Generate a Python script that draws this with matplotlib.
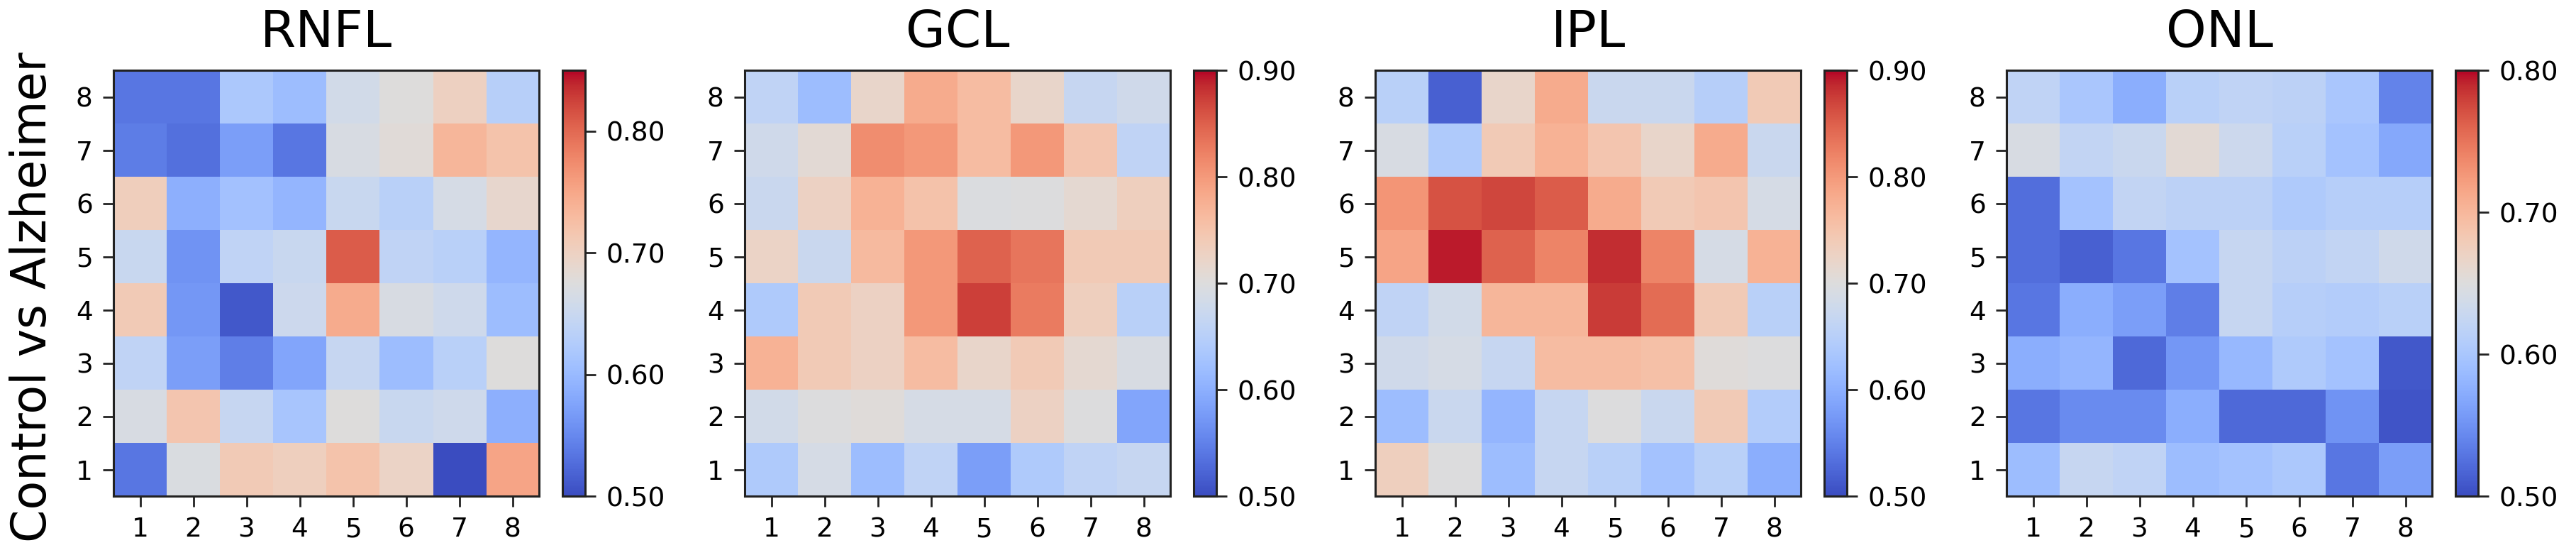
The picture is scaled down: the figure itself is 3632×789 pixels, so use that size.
import numpy as np
import matplotlib
matplotlib.use('Agg')
import matplotlib.pyplot as plt

# grid positions 1..8 on both axes
positions = [1, 2, 3, 4, 5, 6, 7, 8]
layers = ['RNFL', 'GCL', 'IPL', 'ONL']

# rows listed from top (y=8) down to bottom (y=1)
rnfl = [
    [0.535, 0.535, 0.620, 0.605, 0.660, 0.675, 0.700, 0.630],
    [0.540, 0.530, 0.570, 0.535, 0.668, 0.680, 0.735, 0.720],
    [0.705, 0.588, 0.610, 0.595, 0.650, 0.633, 0.665, 0.690],
    [0.650, 0.560, 0.640, 0.650, 0.808, 0.640, 0.633, 0.595],
    [0.710, 0.563, 0.510, 0.654, 0.745, 0.668, 0.657, 0.605],
    [0.640, 0.570, 0.542, 0.577, 0.647, 0.605, 0.633, 0.675],
    [0.668, 0.717, 0.647, 0.615, 0.675, 0.650, 0.657, 0.588],
    [0.535, 0.670, 0.710, 0.703, 0.720, 0.696, 0.500, 0.752],
]
gcl = [
    [0.660, 0.620, 0.720, 0.780, 0.760, 0.720, 0.668, 0.680],
    [0.680, 0.708, 0.812, 0.800, 0.760, 0.800, 0.748, 0.660],
    [0.672, 0.728, 0.772, 0.752, 0.696, 0.700, 0.712, 0.732],
    [0.724, 0.672, 0.764, 0.800, 0.848, 0.832, 0.740, 0.740],
    [0.640, 0.740, 0.728, 0.800, 0.872, 0.828, 0.732, 0.652],
    [0.772, 0.740, 0.728, 0.760, 0.720, 0.740, 0.712, 0.692],
    [0.684, 0.700, 0.704, 0.688, 0.688, 0.728, 0.700, 0.588],
    [0.640, 0.688, 0.620, 0.660, 0.580, 0.640, 0.660, 0.668],
]
ipl = [
    [0.652, 0.520, 0.720, 0.780, 0.672, 0.672, 0.648, 0.740],
    [0.692, 0.640, 0.740, 0.772, 0.748, 0.720, 0.780, 0.672],
    [0.804, 0.860, 0.868, 0.852, 0.780, 0.740, 0.748, 0.688],
    [0.788, 0.892, 0.848, 0.820, 0.884, 0.820, 0.688, 0.772],
    [0.660, 0.684, 0.768, 0.768, 0.876, 0.840, 0.740, 0.652],
    [0.680, 0.688, 0.668, 0.760, 0.760, 0.756, 0.704, 0.700],
    [0.620, 0.672, 0.608, 0.668, 0.700, 0.672, 0.740, 0.644],
    [0.732, 0.700, 0.620, 0.668, 0.652, 0.628, 0.652, 0.600],
]
onl = [
    [0.620, 0.600, 0.575, 0.614, 0.620, 0.617, 0.600, 0.539],
    [0.644, 0.623, 0.629, 0.656, 0.632, 0.614, 0.596, 0.569],
    [0.524, 0.596, 0.623, 0.617, 0.617, 0.605, 0.611, 0.611],
    [0.524, 0.515, 0.530, 0.596, 0.626, 0.617, 0.623, 0.635],
    [0.530, 0.575, 0.560, 0.536, 0.626, 0.611, 0.608, 0.614],
    [0.575, 0.581, 0.521, 0.554, 0.584, 0.605, 0.596, 0.509],
    [0.530, 0.545, 0.545, 0.575, 0.521, 0.521, 0.551, 0.506],
    [0.590, 0.626, 0.620, 0.590, 0.596, 0.602, 0.530, 0.560],
]
maps = [rnfl, gcl, ipl, onl]

# colour limits and colourbar ticks per layer
vmins = [0.50, 0.50, 0.50, 0.50]
vmaxs = [0.85, 0.90, 0.90, 0.80]
cbar_ticks = [[0.5, 0.6, 0.7, 0.8],
              [0.5, 0.6, 0.7, 0.8, 0.9],
              [0.5, 0.6, 0.7, 0.8, 0.9],
              [0.5, 0.6, 0.7, 0.8]]

W, H = 3632, 789
fig = plt.figure(figsize=(W / 100, H / 100), dpi=100)

lefts = [160, 1050, 1939, 2829]  # pixel left edge of each heatmap
box = 600
bottom = 90

for i in range(4):
    ax = fig.add_axes([lefts[i] / W, bottom / H, box / W, box / H])
    data = np.flipud(np.array(maps[i]))
    im = ax.imshow(data, cmap='coolwarm', vmin=vmins[i], vmax=vmaxs[i],
                   origin='lower', interpolation='nearest', aspect='auto',
                   extent=(0.5, 8.5, 0.5, 8.5))
    ax.set_xticks(positions)
    ax.set_yticks(positions)
    ax.set_xticklabels([str(p) for p in positions])
    ax.set_yticklabels([str(p) for p in positions])
    ax.tick_params(labelsize=27, length=11, width=2, pad=10, color='#222222')
    for sp in ax.spines.values():
        sp.set_linewidth(2.2)
        sp.set_color('#222222')
    ax.set_title(layers[i], fontsize=52, pad=24)

    cax = fig.add_axes([(lefts[i] + 633) / W, bottom / H, 32 / W, box / H])
    cb = fig.colorbar(im, cax=cax, ticks=cbar_ticks[i], format='%.2f')
    cb.outline.set_linewidth(2.2)
    cb.outline.set_edgecolor('#222222')
    cb.ax.tick_params(labelsize=27, length=11, width=2, pad=10, color='#222222')

fig.text(46 / W, 0.47, 'Control vs Alzheimer', rotation=90, fontsize=48,
         ha='center', va='center')

fig.savefig('out.png', dpi=100)
